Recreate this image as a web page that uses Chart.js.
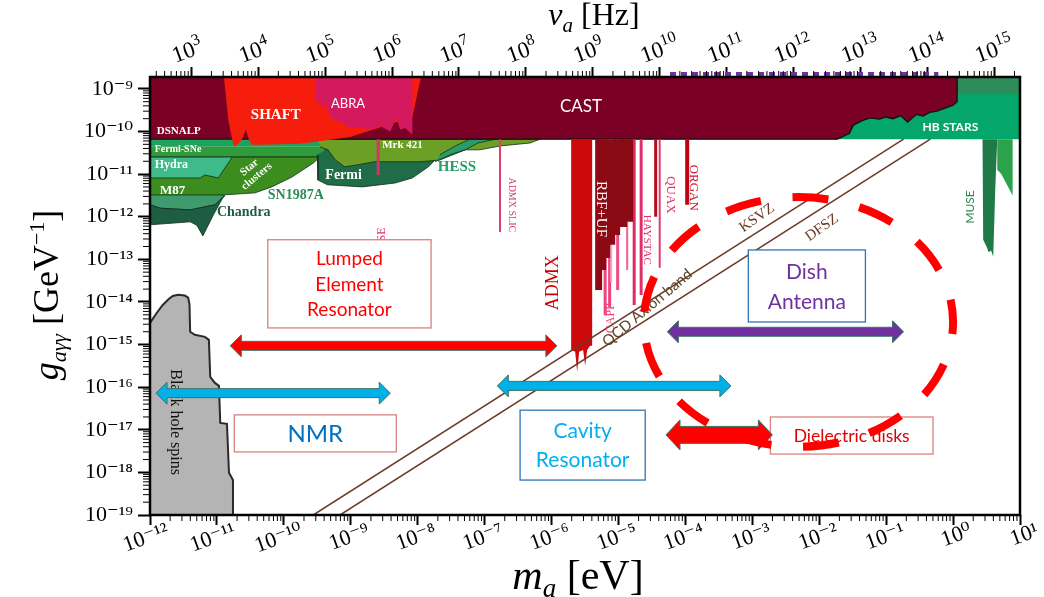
<!DOCTYPE html>
<html><head><meta charset="utf-8">
<script src="https://cdn.jsdelivr.net/npm/chart.js@4.4.1/dist/chart.umd.min.js"></script>
<style>html,body{margin:0;padding:0;background:#fff}#wrap{width:1044px;height:597px;position:relative}</style>
</head><body><div id="wrap"><canvas id="c"></canvas></div>
<script>
const SERIF = '"Liberation Serif","DejaVu Serif",serif';
const SANS = 'Lato,"Open Sans","Liberation Sans",sans-serif';

// ---------------- axes ----------------
const massMin = 1e-12, massMax = 10;            // eV
const gMin = 1e-19, gMax = 1.9e-9;              // GeV^-1
const freqMin = 241.8, freqMax = 2.418e15;      // Hz (nu = m c^2 / h)
const massTicks = [1e-12,1e-11,1e-10,1e-9,1e-8,1e-7,1e-6,1e-5,1e-4,1e-3,1e-2,1e-1,1,10];
const massTickLabels = ['10⁻¹²','10⁻¹¹','10⁻¹⁰','10⁻⁹','10⁻⁸','10⁻⁷','10⁻⁶','10⁻⁵','10⁻⁴','10⁻³','10⁻²','10⁻¹','10⁰','10¹'];
const gTicks = [1e-19,1e-18,1e-17,1e-16,1e-15,1e-14,1e-13,1e-12,1e-11,1e-10,1e-9];
const gTickLabels = ['10⁻¹⁹','10⁻¹⁸','10⁻¹⁷','10⁻¹⁶','10⁻¹⁵','10⁻¹⁴','10⁻¹³','10⁻¹²','10⁻¹¹','10⁻¹⁰','10⁻⁹'];
const freqTicks = [1e3,1e4,1e5,1e6,1e7,1e8,1e9,1e10,1e11,1e12,1e13,1e14,1e15];
const freqTickLabels = ['10³','10⁴','10⁵','10⁶','10⁷','10⁸','10⁹','10¹⁰','10¹¹','10¹²','10¹³','10¹⁴','10¹⁵'];

// ---------------- regions: log10(m/eV), log10(g/GeV^-1) ----------------
const hbLogM = [-1.8,-1.8,1.1,1.1];
const hbLogG = [-10.18,-8.5,-8.5,-10.18];
const hbTopLogM = [0.06,0.06,1.1,1.1];
const hbTopLogG = [-9.12,-8.5,-8.5,-9.12];
const fermiSNeTopLogM = [-12,-12,-9.38,-9.38];
const fermiSNeTopLogG = [-10.18,-10.36,-10.36,-10.18];
const fermiSNeLowLogM = [-12,-12,-9.38,-9.38];
const fermiSNeLowLogG = [-10.36,-10.60,-10.60,-10.36];
const starClLogM = [-12,-12,-10.77,-9.46,-9.56,-9.88,-10.18,-10.43,-10.92];
const starClLogG = [-11.49,-11.07,-10.60,-10.60,-10.74,-11.07,-11.30,-11.44,-11.49];
const hydraLogM = [-12,-10.77,-10.98,-11.18,-11.25,-12];
const hydraLogG = [-10.60,-10.60,-11.09,-11.02,-11.09,-11.09];
const m87LogM = [-12,-10.92,-10.88,-11.03,-11.40,-11.85,-12];
const m87LogG = [-11.49,-11.49,-11.51,-11.72,-11.84,-11.80,-11.72];
const chandraLogM = [-12,-11.85,-11.40,-11.03,-10.90,-11.05,-11.21,-11.30,-11.40,-12];
const chandraLogG = [-11.72,-11.80,-11.84,-11.72,-11.52,-11.95,-12.45,-12.2,-12.12,-12.19];
const fermiLogM = [-9.50,-9.49,-9.35,-8.83,-8.34,-8.08,-7.84,-7.74,-7.52,-7.29,-9.38];
const fermiLogG = [-10.55,-11.14,-11.25,-11.30,-11.21,-11.09,-10.83,-10.67,-10.50,-10.43,-10.43];
const mrkLogM = [-9.49,-6.17,-6.32,-6.77,-7.07,-7.29,-7.67,-7.96,-8.41,-8.64,-8.89,-9.09,-9.23,-9.34,-9.46];
const mrkLogG = [-10.18,-10.18,-10.27,-10.34,-10.43,-10.43,-10.67,-10.71,-10.71,-10.71,-10.78,-10.83,-10.67,-10.43,-10.36];
const hessLogM = [-7.74,-7.52,-7.29,-7.10,-6.84,-7.22,-7.44,-7.67];
const hessLogG = [-10.71,-10.55,-10.43,-10.27,-10.18,-10.18,-10.34,-10.55];
const castLogM = [-12,-12,-1.73,-1.55,-1.49,-1.35,-1.24,-1.10,-1.0,-0.9,-0.78,-0.68,-0.55,-0.45,-0.35,-0.24,-0.12,0.0,0.06,0.06];
const castLogG = [-8.5,-10.18,-10.18,-10.05,-9.85,-9.74,-9.68,-9.71,-9.66,-9.70,-9.63,-9.78,-9.60,-9.64,-9.55,-9.52,-9.45,-9.38,-9.30,-8.5];
const shaftLogM = [-10.91,-10.83,-10.77,-10.74,-10.65,-10.61,-10.57,-10.52,-10.48,-10.33,-9.76,-9.52,-9.01,-8.08,-7.92];
const shaftLogG = [-8.5,-9.73,-10.20,-10.36,-10.24,-10.13,-9.96,-10.2,-10.31,-10.31,-10.29,-10.24,-10.13,-9.66,-8.5];
const abraLogM = [-9.52,-9.52,-9.46,-9.43,-9.37,-9.31,-9.16,-9.01,-8.86,-8.71,-8.56,-8.41,-8.32,-8.26,-8.19,-8.08,-8.08];
const abraLogG = [-8.5,-9.33,-9.26,-9.49,-9.33,-9.68,-9.77,-9.92,-9.92,-9.96,-9.87,-10.0,-9.68,-9.96,-9.92,-10.07,-8.5];
const bhLogM = [-12,-12,-11.90,-11.81,-11.72,-11.66,-11.58,-11.48,-11.43,-11.41,-11.40,-11.33,-11.18,-11.12,-11.10,-11.03,-10.97,-10.95,-10.85,-10.82,-10.76,-10.76];
const bhLogG = [-19.2,-14.49,-14.26,-14.07,-13.93,-13.86,-13.83,-13.85,-13.90,-14.05,-14.70,-14.77,-14.82,-14.89,-15.76,-15.90,-15.97,-16.84,-16.86,-18.01,-18.18,-19.2];
const admxLogM = [-5.707,-5.707,-5.647,-5.617,-5.587,-5.528,-5.498,-5.468,-5.423,-5.393,-5.393];
const admxLogG = [-10.18,-15.13,-15.17,-15.64,-15.17,-15.13,-15.50,-15.13,-15.03,-15.03,-10.18];
const rbfLogM = [-5.348,-5.348,-5.244,-5.244,-5.184,-5.184,-5.124,-5.124,-5.049,-5.049,-4.975,-4.975,-4.870,-4.870,-4.780,-4.780];
const rbfLogG = [-10.18,-13.72,-13.72,-13.25,-13.25,-12.97,-12.97,-12.66,-12.66,-12.43,-12.43,-12.24,-12.24,-12.12,-12.12,-10.18];
const museDarkLogM = [0.44,0.45,0.50,0.53,0.57,0.60,0.63,0.66];
const museDarkLogG = [-10.18,-12.54,-12.70,-12.83,-12.80,-12.94,-11.37,-10.18];
const museLightLogM = [0.66,0.66,0.72,0.89,0.89];
const museLightLogG = [-10.18,-10.9,-11.0,-11.5,-10.18];
// thin haloscope / other exclusion lines (from the CAST edge down)
const lineLogM = [-8.59,-6.77,-5.199,-5.132,-5.012,-4.870,-5.109,-4.975,-4.765,-4.661,-4.444,-4.384,-3.973];
const lineLowLogG = [-11.02,-12.36,-14.31,-14.12,-13.72,-13.25,-13.53,-12.08,-14.07,-13.84,-12.00,-13.20,-11.72];
const lineTopLogG = -10.18;
// QCD axion band
const ksvzLogM = [-9.56,-0.74], ksvzLogG = [-19,-10.18];
const dfszLogM = [-9.16,-0.34], dfszLogG = [-19,-10.18];
// purple dotted range on the top frame
const dottedLogM = [-4.23,-0.22], dottedLogG = [-8.65,-8.65];

// annotations (data coordinates, log10)
const arrowFromM = [-10.80,-11.91,-6.81,-4.27,-4.29];
const arrowToM   = [-5.92,-8.41,-3.32,-0.74,-2.70];
const arrowAtG   = [-15.03,-16.14,-15.97,-14.70,-17.12];
const boxM1 = [-10.24,-10.74,-6.47,-3.06,-2.73];
const boxM2 = [-7.80,-8.32,-4.60,-1.31,-0.30];
const boxG1 = [-12.54,-16.65,-16.54,-12.78,-16.70];
const boxG2 = [-14.61,-17.52,-18.18,-14.47,-17.57];
const boxText = [['Lumped','Element','Resonator'],['NMR'],['Cavity','Resonator'],['Dish','Antenna'],['Dielectric disks']];
const ellipseLogM = -2.31, ellipseLogG = -14.47, ellipseHalfDecM = 2.31, ellipseHalfDecG = 2.93;

// styles
const arrowStyle = [
  {c:'#ff0000', sh:4.5, hh:11, hl:11},
  {c:'#00b0e6', sh:4.5, hh:11, hl:11},
  {c:'#00b0e6', sh:4.5, hh:11, hl:11},
  {c:'#7030a0', sh:4.5, hh:11, hl:11},
  {c:'#ff0000', sh:8.5, hh:15, hl:14}
];
const boxStyle = [
  {b:'#d9827f', c:'#ff0000', f:'19px '+SANS, lh:25.5},
  {b:'#d9827f', c:'#0070c0', f:'24px '+SANS, lh:0},
  {b:'#2e75b6', c:'#00b0f0', f:'21px '+SANS, lh:29},
  {b:'#2e75b6', c:'#7030a0', f:'21px '+SANS, lh:30},
  {b:'#d9827f', c:'#e00000', f:'17.5px '+SANS, lh:0}
];
const regionLabels = [
 ['DSNALP',-11.90,-9.99,0,'bold 11px '+SERIF,'#fff','left'],
 ['SHAFT',-10.12,-9.61,0,'bold 15px '+SERIF,'#fff','center'],
 ['ABRA',-9.04,-9.35,0,'13px '+SANS,'#fff','center'],
 ['CAST',-5.56,-9.42,0,'17px '+SANS,'#fff','center'],
 ['HB STARS',-0.04,-9.89,0,'bold 12px '+SANS,'#fff','center'],
 ['Fermi-SNe',-11.93,-10.43,0,'bold 10px '+SERIF,'#fff','left'],
 ['Hydra',-11.93,-10.78,0,'bold 12px '+SERIF,'#fff','left'],
 ['M87',-11.85,-11.39,0,'bold 13px '+SERIF,'#fff','left'],
 ['Star\nclusters',-10.46,-10.95,-40,'bold 11px '+SERIF,'#fff','center'],
 ['Fermi',-9.38,-11.02,0,'bold 14px '+SERIF,'#fff','left'],
 ['Mrk 421',-8.53,-10.31,0,'bold 11px '+SERIF,'#fff','left'],
 ['HESS',-7.70,-10.83,0,'bold 15px '+SERIF,'#2b9a6a','left'],
 ['SN1987A',-10.24,-11.51,0,'bold 14px '+SERIF,'#2e8b57','left'],
 ['Chandra',-11.0,-11.91,0,'bold 14px '+SERIF,'#1e5c45','left'],
 ['Black hole spins',-11.63,-16.82,90,'16px '+SERIF,'#111','center'],
 ['BASE',-8.53,-12.61,-90,'12px '+SERIF,'#e0306a','center'],
 ['ADMX SLIC',-6.60,-11.72,90,'10px '+SERIF,'#d63a6a','center'],
 ['ADMX',-5.98,-13.55,-90,'18px '+SERIF,'#cc0000','center'],
 ['RBF+UF',-5.26,-11.82,90,'15px '+SERIF,'#fff','center'],
 ['CAPP',-5.11,-14.38,-90,'12px '+SERIF,'#f0407a','center'],
 ['HAYSTAC',-4.57,-12.54,90,'11px '+SERIF,'#e0306a','center'],
 ['QUAX',-4.23,-11.49,90,'13px '+SERIF,'#e0306a','center'],
 ['ORGAN',-3.88,-11.32,90,'13px '+SERIF,'#cc1030','center'],
 ['KSVZ',-2.93,-12.03,-35,'15px '+SERIF,'#6b3a28','center'],
 ['DFSZ',-1.96,-12.26,-35,'15px '+SERIF,'#6b3a28','center'],
 ['QCD Axion band',-4.57,-14.14,-40,'15px '+SANS,'#5c4326','center'],
 ['MUSE',0.26,-11.77,-90,'12px '+SANS,'#2a8a50','center']
];

// ---------------- datasets ----------------
const P = (lm, lg) => lm.map((m, i) => ({x: Math.pow(10, m), y: Math.pow(10, lg[i])}));
const NONE = 'rgba(0,0,0,0)';
function region(lm, lg, color, border, bw) {
  return {type:'line', data:P(lm, lg), backgroundColor:color, borderColor:border||NONE,
          borderWidth:bw||1, fill:'shape', pointRadius:0, tension:0};
}
function segLine(lm, lg, color, w, extra) {
  return Object.assign({type:'line', data:P(lm, lg), borderColor:color, backgroundColor:color,
          borderWidth:w, fill:false, pointRadius:0, tension:0}, extra||{});
}
const lineColors = ['#d6336c','#e04070','#f0457e','#f0457e','#ee4a86','#f06292','#f7a6c0','#e8336e','#e02a66','#e0306a','#b0101e','#e23a70','#c00010'];
const lineWidths = [3,2,3,3,3,2,2,2,3,3,3,2,4];
const darkEdge = 'rgba(20,45,25,0.8)';

const ds = [
  region(hbLogM, hbLogG, '#05a66b'),
  region(hbTopLogM, hbTopLogG, '#2e8c5b', darkEdge, 1),
  region(fermiSNeTopLogM, fermiSNeTopLogG, '#1fa35c'),
  region(fermiSNeLowLogM, fermiSNeLowLogG, '#2f9b3b', darkEdge, 1),
  region(starClLogM, starClLogG, '#3b8d1d', darkEdge, 1),
  region(hydraLogM, hydraLogG, '#3fba8a', darkEdge, 1),
  region(m87LogM, m87LogG, '#3f9a6d', darkEdge, 1),
  region(chandraLogM, chandraLogG, '#1d5d44', darkEdge, 1),
  region(fermiLogM, fermiLogG, '#1e6c48', darkEdge, 1),
  region(mrkLogM, mrkLogG, '#6b9f25', darkEdge, 1),
  region(hessLogM, hessLogG, '#2b9b6b', darkEdge, 1),
  region(castLogM, castLogG, '#7b0026', '#111', 1.3),
  region(shaftLogM, shaftLogG, '#f71d0c'),
  region(abraLogM, abraLogG, '#d41a5f'),
];
lineLogM.forEach((m, i) => ds.push(segLine([m, m], [lineTopLogG, lineLowLogG[i]], lineColors[i], lineWidths[i])));
ds.push(region(admxLogM, admxLogG, '#cc0a0a'));
ds.push(region(rbfLogM, rbfLogG, '#8c0a14'));
ds.push(region(museDarkLogM, museDarkLogG, '#1f7a47'));
ds.push(region(museLightLogM, museLightLogG, '#2da24c'));
ds.push(region(bhLogM, bhLogG, '#b4b4b4', '#2a2a2a', 2));
ds.push(segLine(ksvzLogM, ksvzLogG, '#6b3a28', 1.5));
ds.push(segLine(dfszLogM, dfszLogG, '#6b3a28', 1.5));
ds.push(segLine(dottedLogM, dottedLogG, '#7030a0', 4, {borderDash:[6,5], clip:false}));
ds.forEach((d, i) => { d.order = ds.length - i; });

// ---------------- drawing helpers ----------------
function drawRuns(ctx, runs, x, y, align) {
  let total = 0;
  runs.forEach(r => { ctx.font = r.f; r.w = ctx.measureText(r.t).width; total += r.w; });
  let cx = align === 'center' ? x - total / 2 : x;
  ctx.textAlign = 'left'; ctx.textBaseline = 'alphabetic';
  runs.forEach(r => { ctx.font = r.f; ctx.fillText(r.t, cx, y + (r.dy || 0)); cx += r.w; });
}
const SUP = {'⁰':'0','¹':'1','²':'2','³':'3','⁴':'4','⁵':'5','⁶':'6','⁷':'7','⁸':'8','⁹':'9','⁻':'−'};
const plainExp = lab => lab.slice(2).split('').map(c => SUP[c] || c).join('');

const decor = {
  id: 'decor',
  afterDatasetsDraw(chart) {
    const ctx = chart.ctx, xs = chart.scales.x, ys = chart.scales.y, xt = chart.scales.xTop;
    const px = lm => xs.getPixelForValue(Math.pow(10, lm));
    const py = lg => ys.getPixelForValue(Math.pow(10, lg));
    const a = chart.chartArea;
    ctx.save();
    ctx.beginPath(); ctx.rect(a.left, a.top, a.right - a.left, a.bottom - a.top); ctx.clip();
    // region labels
    regionLabels.forEach(([t, m, g, rot, f, c, al]) => {
      ctx.save();
      ctx.translate(px(m), py(g));
      ctx.rotate(rot * Math.PI / 180);
      ctx.font = f; ctx.fillStyle = c; ctx.textAlign = al; ctx.textBaseline = 'middle';
      const lines = t.split('\n');
      const lh = parseFloat(f.match(/([\d.]+)px/)[1]) * 1.05;
      lines.forEach((ln, k) => ctx.fillText(ln, 0, (k - (lines.length - 1) / 2) * lh));
      ctx.restore();
    });
    // boxes
    boxText.forEach((lines, i) => {
      const st = boxStyle[i];
      const x1 = px(boxM1[i]), x2 = px(boxM2[i]), y1 = py(boxG1[i]), y2 = py(boxG2[i]);
      ctx.fillStyle = '#fff'; ctx.fillRect(x1, y1, x2 - x1, y2 - y1);
      ctx.strokeStyle = st.b; ctx.lineWidth = 1.3; ctx.strokeRect(x1, y1, x2 - x1, y2 - y1);
      ctx.fillStyle = st.c; ctx.font = st.f; ctx.textAlign = 'center'; ctx.textBaseline = 'middle';
      const cx = (x1 + x2) / 2, cy = (y1 + y2) / 2;
      lines.forEach((ln, k) => ctx.fillText(ln, cx, cy + (k - (lines.length - 1) / 2) * st.lh + 1));
    });
    // arrows
    arrowFromM.forEach((m, i) => {
      const s = arrowStyle[i];
      const x1 = px(m), x2 = px(arrowToM[i]), y = py(arrowAtG[i]);
      ctx.beginPath();
      ctx.moveTo(x1, y);
      ctx.lineTo(x1 + s.hl, y - s.hh); ctx.lineTo(x1 + s.hl, y - s.sh);
      ctx.lineTo(x2 - s.hl, y - s.sh); ctx.lineTo(x2 - s.hl, y - s.hh);
      ctx.lineTo(x2, y);
      ctx.lineTo(x2 - s.hl, y + s.hh); ctx.lineTo(x2 - s.hl, y + s.sh);
      ctx.lineTo(x1 + s.hl, y + s.sh); ctx.lineTo(x1 + s.hl, y + s.hh);
      ctx.closePath();
      ctx.fillStyle = s.c; ctx.fill();
      ctx.strokeStyle = '#3a7565'; ctx.lineWidth = 1; ctx.stroke();
    });
    // dashed ellipse
    const ecx = px(ellipseLogM), ecy = py(ellipseLogG);
    const rx = px(ellipseLogM + ellipseHalfDecM) - ecx, ry = ecy - py(ellipseLogG + ellipseHalfDecG);
    ctx.beginPath(); ctx.ellipse(ecx, ecy, rx, ry, 0, 0, Math.PI * 2);
    ctx.setLineDash([36, 31.8]); ctx.lineDashOffset = 24;
    ctx.strokeStyle = '#ff0000'; ctx.lineWidth = 8; ctx.stroke();
    ctx.setLineDash([]);
    ctx.restore();

    // frame
    ctx.save();
    ctx.strokeStyle = '#000'; ctx.lineWidth = 2.5;
    ctx.strokeRect(a.left, a.top, a.right - a.left, a.bottom - a.top);
    // minor ticks
    ctx.lineWidth = 1;
    ctx.beginPath();
    for (let e = -12; e < 1; e++) for (let k = 2; k <= 9; k++) {
      const x = xs.getPixelForValue(k * Math.pow(10, e)); ctx.moveTo(x, a.bottom); ctx.lineTo(x, a.bottom + 6);
    }
    for (let e = 2; e < 16; e++) for (let k = 2; k <= 9; k++) {
      const v = k * Math.pow(10, e); if (v < freqMin || v > freqMax) continue;
      const x = xt.getPixelForValue(v); ctx.moveTo(x, a.top); ctx.lineTo(x, a.top - 6);
    }
    for (let e = -19; e < -8; e++) for (let k = 2; k <= 9; k++) {
      const v = k * Math.pow(10, e); if (v > gMax) continue;
      const y = ys.getPixelForValue(v); ctx.moveTo(a.left, y); ctx.lineTo(a.left - 7, y);
    }
    ctx.stroke();
    // top (frequency) tick labels
    ctx.fillStyle = '#000';
    freqTicks.forEach((v, i) => {
      const x = xt.getPixelForValue(v);
      ctx.save();
      ctx.translate(x - 16, a.top - 14);
      ctx.rotate(-20 * Math.PI / 180);
      drawRuns(ctx, [{t:'10', f:'23px '+SERIF}, {t:plainExp(freqTickLabels[i]), f:'16px '+SERIF, dy:-10}], 0, 0, 'left');
      ctx.restore();
    });
    // axis titles
    drawRuns(ctx, [{t:'ν', f:'italic 32px '+SERIF}, {t:'a', f:'italic 21px '+SERIF, dy:7}, {t:' [Hz]', f:'32px '+SERIF}], 594, 25, 'center');
    drawRuns(ctx, [{t:'m', f:'italic 42px '+SERIF}, {t:'a', f:'italic 27px '+SERIF, dy:8}, {t:' [eV]', f:'42px '+SERIF}], 578, 589, 'center');
    ctx.translate(58, 295); ctx.rotate(-Math.PI / 2);
    drawRuns(ctx, [{t:'g', f:'italic 36px '+SERIF}, {t:'aγγ', f:'italic 22px '+SERIF, dy:8}, {t:' [GeV', f:'36px '+SERIF}, {t:'−1', f:'22px '+SERIF, dy:-14}, {t:']', f:'36px '+SERIF}], 0, 0, 'center');
    ctx.restore();
  }
};

const gridOpts = len => ({display:true, drawOnChartArea:false, drawTicks:true, tickLength:len, tickWidth:2, tickColor:'#000'});

new Chart(document.getElementById('c'), {
  type: 'scatter',
  data: {datasets: ds},
  options: {
    responsive: true, maintainAspectRatio: false, animation: false,
    layout: {padding: {left:0, right:24, top:0, bottom:0}},
    plugins: {legend:{display:false}, tooltip:{enabled:false}},
    scales: {
      x: {type:'logarithmic', position:'bottom', min:massMin, max:massMax,
          afterBuildTicks: s => { s.ticks = massTicks.map(v => ({value:v})); },
          afterFit: s => { s.height = 82; },
          ticks: {autoSkip:false, minRotation:20, maxRotation:20, labelOffset:18, padding:-7, color:'#000',
                  font:{family:SERIF, size:22}, callback: v => massTickLabels[massTicks.findIndex(t => Math.abs(t - v) / t < 1e-6)]},
          grid: gridOpts(10), border:{display:false}},
      xTop: {type:'logarithmic', axis:'x', position:'top', min:freqMin, max:freqMax,
          afterBuildTicks: s => { s.ticks = freqTicks.map(v => ({value:v})); },
          afterFit: s => { s.height = 77; },
          ticks: {display:false, autoSkip:false},
          grid: gridOpts(10), border:{display:false}},
      y: {type:'logarithmic', position:'left', min:gMin, max:gMax,
          afterBuildTicks: s => { s.ticks = gTicks.map(v => ({value:v})); },
          afterFit: s => { s.width = 150; },
          ticks: {autoSkip:false, padding:5, color:'#000', font:{family:SERIF, size:22},
                  callback: v => gTickLabels[gTicks.findIndex(t => Math.abs(t - v) / t < 1e-6)]},
          grid: gridOpts(12), border:{display:false}}
    }
  },
  plugins: [decor]
});
</script></body></html>
